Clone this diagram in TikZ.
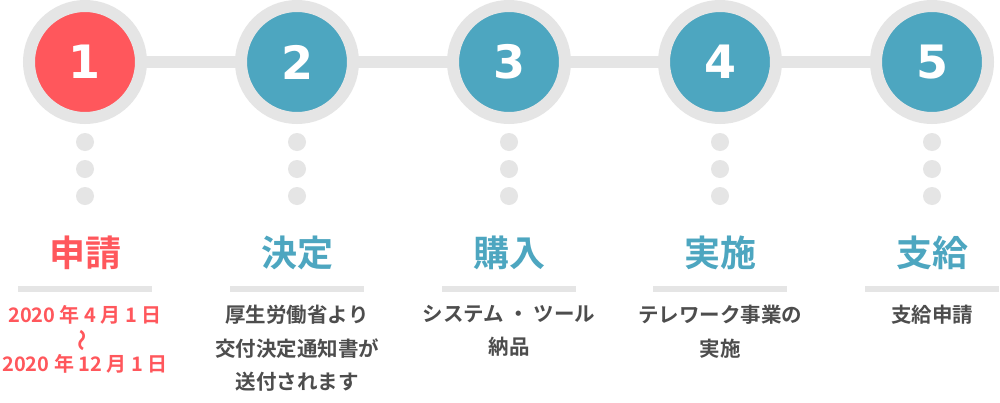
\documentclass[tikz,border=0pt]{standalone}
\usepackage{fontspec}
\setmainfont{Noto Sans CJK JP}[BoldFont={* Bold}]
\newfontfamily\jpb{Noto Sans CJK JP Bold}
\newfontfamily\numfont{DejaVu Sans Bold}
\definecolor{ringgrey}{HTML}{E5E5E5}
\definecolor{stepred}{HTML}{FF575C}
\definecolor{stepblue}{HTML}{4DA6C0}
\definecolor{txtgrey}{HTML}{4D4D4D}
\tikzset{
  stepcircle/.style={circle, draw=ringgrey, line width=12pt, minimum size=112pt, inner sep=0pt, text=white, font=\numfont\fontsize{46}{46}\selectfont},
  conn/.style={draw=ringgrey, line width=12pt},
  dotnode/.style={circle, fill=ringgrey, minimum size=18pt, inner sep=0pt},
  titlenode/.style={font=\jpb\fontsize{36}{36}\selectfont, inner sep=0pt},
  sepline/.style={draw=ringgrey, line width=6pt},
  descnode/.style={font=\jpb\fontsize{20.5}{33.5}\selectfont, align=center, inner sep=0pt, anchor=north, text=txtgrey},
}
\begin{document}
\begin{tikzpicture}[x=1pt,y=-1pt]
\useasboundingbox[fill=white] (0,0) rectangle (1000,402);
\coordinate (p1) at (85,62);
\coordinate (p2) at (297,62);
\coordinate (p3) at (509,62);
\coordinate (p4) at (720,62);
\coordinate (p5) at (932,62);
\draw[conn] (p1) -- (p2) -- (p3) -- (p4) -- (p5);
\node[stepcircle, fill=stepred] (c1) at (p1) {1};
\node[stepcircle, fill=stepblue] (c2) at (p2) {2};
\node[stepcircle, fill=stepblue] (c3) at (p3) {3};
\node[stepcircle, fill=stepblue] (c4) at (p4) {4};
\node[stepcircle, fill=stepblue] (c5) at (p5) {5};
\foreach \i/\x in {1/85,2/297,3/509,4/720,5/932}{
  \node[dotnode] (d\i a) at (\x,142) {};
  \node[dotnode] (d\i b) at (\x,169) {};
  \node[dotnode] (d\i c) at (\x,196) {};
  \coordinate (s\i l) at (\x-67,289);
  \coordinate (s\i r) at (\x+67,289);
  \draw[sepline] (s\i l) -- (s\i r);
}
\node[titlenode, text=stepred] (t1) at (85,253) {申請};
\node[titlenode, text=stepblue] (t2) at (297,253) {決定};
\node[titlenode, text=stepblue] (t3) at (509,253) {購入};
\node[titlenode, text=stepblue] (t4) at (720,253) {実施};
\node[titlenode, text=stepblue] (t5) at (932,253) {支給};
\node[descnode, text=stepred, font=\jpb\fontsize{20}{24.5}\selectfont] (e1) at (85,305) {2020 年 4 月 1 日\\{\fontsize{22}{14}\selectfont\rotatebox[origin=c]{90}{〜}}\\2020 年 12 月 1 日};
\node[descnode] (e2) at (297,305) {厚生労働省より\\交付決定通知書が\\送付されます};
\node[descnode] (e3) at (509,305) {システム ・ ツール\\納品};
\node[descnode] (e4) at (720,305) {テレワーク事業の\\実施};
\node[descnode] (e5) at (932,305) {支給申請};
\end{tikzpicture}
\end{document}
